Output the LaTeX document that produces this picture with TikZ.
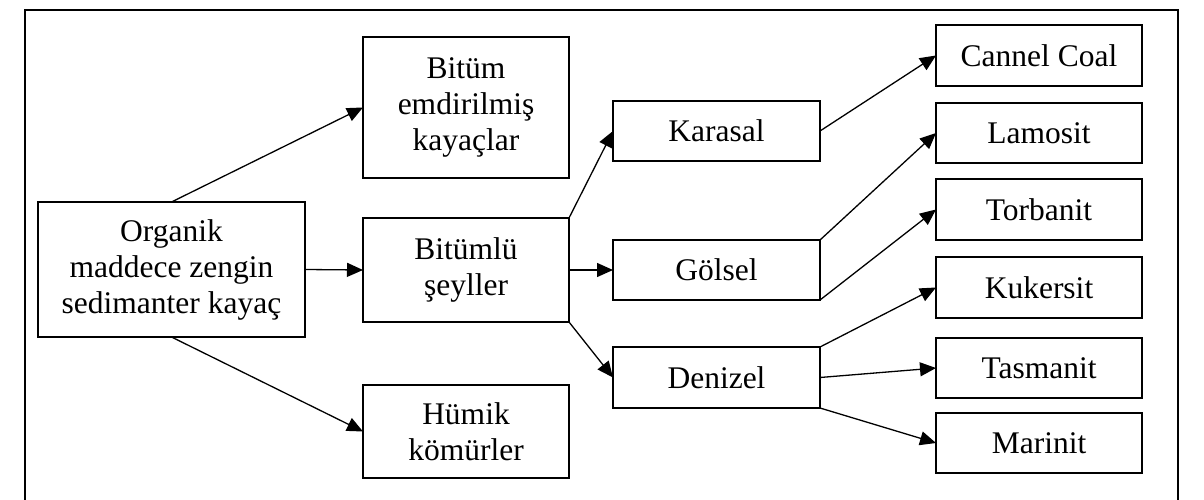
\documentclass[tikz,border=0pt]{standalone}
\usepackage{fontspec}
\setmainfont{Liberation Serif}
\usetikzlibrary{arrows.meta}
\begin{document}
\begin{tikzpicture}[x=1pt,y=1pt,
  box/.style={draw, line width=1.5pt, inner sep=0pt, outer sep=0pt, align=center,
    font=\fontsize{31.5}{36}\selectfont},
  conn/.style={line width=1.3pt, -{Triangle[length=16pt,width=14pt]}}]
\useasboundingbox (0,0) rectangle (1204,499);
\clip (0,0) rectangle (1204,499);
\draw[line width=2.8pt] (25,-20) rectangle (1178,489);
\node[box, minimum width=267, minimum height=135] (org) at (171.5,229.5) {Organik\\maddece zengin\\sedimanter kayaç};
\node[box, minimum width=206, minimum height=141] (bem) at (466,391.5) {Bitüm\\emdirilmiş\\kayaçlar};
\node[box, minimum width=206, minimum height=104] (bit) at (466,229) {Bitümlü\\şeyller};
\node[box, minimum width=206, minimum height=93] (hum) at (466,67.5) {Hümik\\kömürler};
\node[box, minimum width=207, minimum height=60] (kar) at (716.5,368) {Karasal};
\node[box, minimum width=207, minimum height=60] (gol) at (716.5,229) {Gölsel};
\node[box, minimum width=207, minimum height=61] (den) at (716.5,121.5) {Denizel};
\node[box, minimum width=206, minimum height=61] (cc) at (1039,443.5) {Cannel Coal};
\node[box, minimum width=206, minimum height=60] (lam) at (1039,366) {Lamosit};
\node[box, minimum width=206, minimum height=61] (tor) at (1039,289.5) {Torbanit};
\node[box, minimum width=206, minimum height=61] (kuk) at (1039,211.5) {Kukersit};
\node[box, minimum width=206, minimum height=60] (tas) at (1039,131) {Tasmanit};
\node[box, minimum width=206, minimum height=60] (mar) at (1039,56) {Marinit};
\draw[conn] (org.north) -- (bem.west);
\draw[conn] (org.east) -- (bit.west);
\draw[conn] (org.south) -- (hum.west);
\draw[conn] (bit.north east) -- (kar.west);
\draw[conn] (bit.east) -- (gol.west);
\draw[conn] (bit.south east) -- (den.west);
\draw[conn] (kar.east) -- (cc.west);
\draw[conn] (gol.north east) -- (lam.west);
\draw[conn] (gol.south east) -- (tor.west);
\draw[conn] (den.north east) -- (kuk.west);
\draw[conn] (den.east) -- (tas.west);
\draw[conn] (den.south east) -- (mar.west);
\end{tikzpicture}
\end{document}
